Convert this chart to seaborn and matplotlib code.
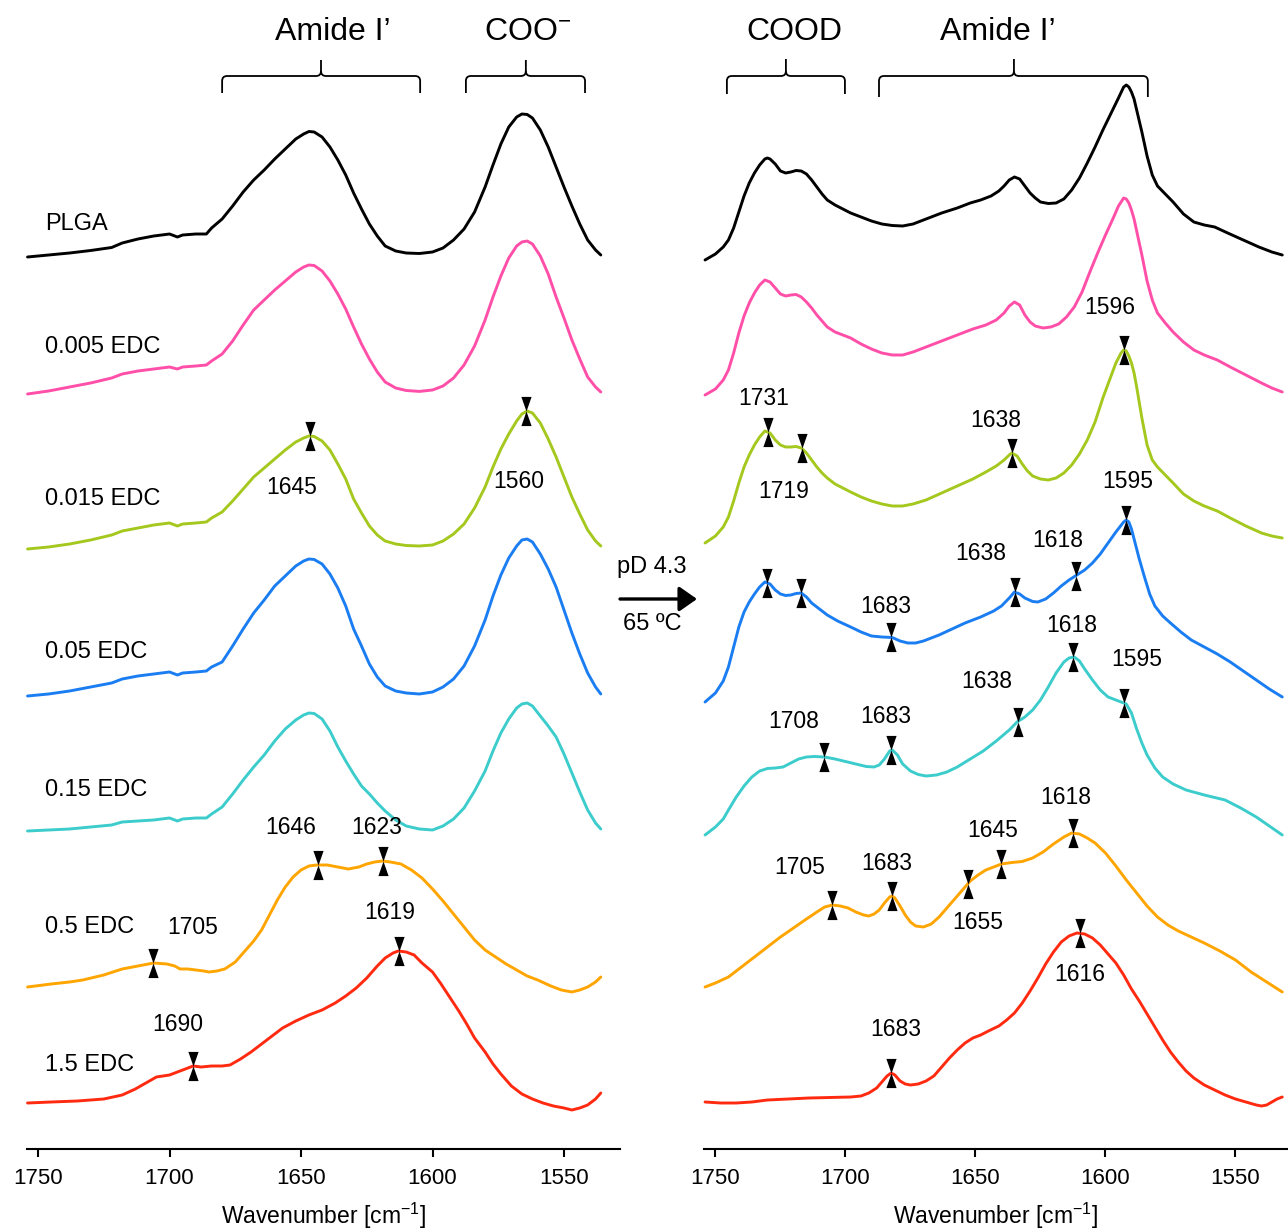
import numpy as np
import matplotlib
matplotlib.use("Agg")
import matplotlib.pyplot as plt
from matplotlib.path import Path
from matplotlib.patches import PathPatch
import seaborn as sns

# ---- samples ----
SAMPLES = ["PLGA", "0.005 EDC", "0.015 EDC", "0.05 EDC", "0.15 EDC", "0.5 EDC", "1.5 EDC"]
COLORS = ["#000000", "#ff4fa8", "#a5c81e", "#1a7df2", "#3ccccc", "#ffa500", "#ff2a10"]

# ---- left panel (before), absorbance in a.u. relative to each trace start ----
L_OFFSETS = [892, 755, 600, 453, 318, 162, 46]

L_GRID_WN = [1754, 1746, 1738, 1730, 1722, 1718, 1712, 1706, 1700, 1697, 1695, 1690, 1686, 1684,
             1680, 1676, 1672, 1668, 1664, 1660, 1656, 1652, 1649, 1647, 1645, 1642, 1639, 1636,
             1633, 1630, 1627, 1624, 1621, 1618, 1614, 1610, 1605, 1600, 1596, 1592, 1588, 1584,
             1580, 1577, 1574, 1571, 1568, 1566, 1564, 1562, 1559, 1556, 1553, 1550, 1547, 1544,
             1541, 1538, 1536]
L_PLGA = [0, 2, 4, 6.5, 9.5, 14, 18, 21, 23, 20, 22, 23, 23, 29,
          38, 51, 65, 77, 87, 98, 108, 118, 123, 125.5, 125, 120, 110, 97,
          82, 64, 48, 33, 21, 11, 6, 4, 3.5, 5, 9, 17, 28, 45,
          70, 92, 113, 130, 140, 143, 142.5, 139, 127, 110, 90, 70, 51, 33,
          17, 7, 2]
L_EDC0005 = [0, 3, 7, 11, 16, 20, 23, 25, 27, 25, 27, 28, 29, 33,
             40, 53, 69, 84, 94, 104, 113, 122, 127, 129, 128.5, 123, 113, 100,
             85, 67, 50, 35, 22, 12, 6, 3.5, 2.6, 4, 8, 16, 29, 48,
             74, 97, 118, 136, 148, 152, 153, 150, 138, 120, 97, 76, 54, 35,
             17, 7, 2]
L_EDC0015 = [0, 2, 5, 9, 14, 18, 21, 24, 26, 23, 25, 26, 27, 31,
             37, 48, 60, 72, 81, 90, 99, 107, 111, 113, 112.5, 108, 99, 85,
             70, 50, 36, 23, 14, 8, 5, 3.5, 3, 4, 8, 15, 25, 41,
             62, 82, 100, 115, 128, 135, 138, 136, 126, 110, 92, 72, 52, 35,
             19, 8, 3]
L_EDC005 = [0, 2, 5, 9, 13, 17, 20, 22, 24, 21, 23, 24, 25, 29,
            34, 50, 67, 83, 96, 110, 120, 130, 135, 137, 136.5, 132, 122, 108,
            90, 67, 50, 32, 19, 10, 5, 3, 2, 4, 9, 17, 30, 50,
            76, 100, 121, 138, 150, 156, 157, 154, 142, 127, 109, 86, 63, 42,
            23, 9, 2]
L_EDC015 = [0, 1, 2, 4, 6, 9, 10, 11, 13, 10, 12, 13, 13, 17,
            24, 37, 51, 64, 76, 90, 102, 111, 116, 118, 117.5, 112, 100, 84,
            70, 57, 45, 37, 28, 20, 11, 5, 2, 1, 5, 12, 23, 40,
            60, 80, 98, 112, 123, 127, 128, 125, 115, 105, 94, 77, 58, 39,
            21, 8, 2]
L_EDC05_WN = [1754, 1745, 1738, 1733, 1725, 1718, 1712, 1706, 1701, 1698, 1696, 1693, 1690, 1687,
              1685, 1682, 1679, 1675, 1671, 1668, 1665, 1662, 1659, 1656, 1653, 1650, 1647, 1644,
              1640, 1636, 1632, 1628, 1625, 1622, 1619, 1616, 1612, 1608, 1604, 1600, 1596, 1592,
              1588, 1584, 1580, 1576, 1572, 1568, 1564, 1560, 1555, 1551, 1547, 1544, 1541, 1538,
              1536]
L_EDC05 = [0, 3, 5, 7, 12, 18, 21, 24, 23, 21, 18, 18, 17, 16,
           15, 16, 18, 25, 37, 46, 57, 72, 87, 100, 110, 117, 121, 122,
           122, 120, 118, 120, 123, 125, 126, 125, 123, 117, 109, 98, 86, 73,
           60, 47, 37, 30, 23, 17, 11, 7, 1, -3, -5, -3, 0, 5,
           10]
L_EDC15_WN = [1754, 1745, 1735, 1725, 1718, 1713, 1709, 1705, 1700, 1696, 1693, 1691, 1688, 1684,
              1680, 1677, 1673, 1669, 1665, 1661, 1657, 1652, 1647, 1642, 1637, 1633, 1629, 1625,
              1621, 1618, 1615, 1613, 1610, 1607, 1604, 1600, 1597, 1593, 1590, 1587, 1584, 1580,
              1577, 1574, 1570, 1566, 1562, 1558, 1554, 1550, 1547, 1544, 1541, 1538, 1536]
L_EDC15 = [0, 1, 2, 4, 8, 14, 20, 26, 28, 32, 35, 37, 36, 37,
           37, 38, 44, 51, 59, 67, 75, 82, 88, 93, 100, 107, 115, 125,
           137, 145, 150, 152, 151, 148, 140, 131, 120, 104, 92, 79, 65, 51,
           39, 29, 17, 9, 4, 0, -3, -5, -7, -5, -2, 4, 10]

# ---- right panel (pD 4.3, 65 C) ----
R_OFFSETS = [889, 754, 606, 447, 314, 162, 47]

R_PLGA_WN = [1754, 1750, 1747, 1745, 1743, 1741, 1739, 1737, 1735, 1733, 1731, 1730, 1729, 1727,
             1725, 1723, 1721, 1719, 1717, 1715, 1713, 1711, 1709, 1707, 1704, 1701, 1698, 1694,
             1690, 1686, 1682, 1678, 1674, 1669, 1663, 1657, 1652, 1648, 1644, 1641, 1639, 1637,
             1635, 1633, 1631, 1629, 1627, 1625, 1622, 1619, 1616, 1613, 1610, 1607, 1604, 1601,
             1598, 1595, 1593, 1592, 1591, 1590, 1589, 1588, 1586, 1584, 1582, 1580, 1577, 1574,
             1570, 1566, 1562, 1558, 1553, 1547, 1541, 1536, 1532]
R_PLGA = [0, 6, 13, 20, 32, 48, 64, 77, 87, 95, 101, 102, 101, 96,
          89, 87, 88, 89.5, 89, 86, 80, 73, 66, 60, 55, 51, 47, 43,
          39, 36, 34.5, 34, 36, 41, 47, 52, 57, 60, 64, 69, 74, 80,
          83, 81, 74, 67, 62, 58, 56.5, 57, 61, 70, 82, 97, 113, 130,
          146, 162, 173, 175, 173, 168, 161, 150, 128, 104, 85, 74, 66, 58,
          46, 38, 35, 33, 27, 20, 13, 8, 5]
R_EDC0005_WN = [1754, 1750, 1747, 1745, 1743, 1741, 1739, 1737, 1735, 1733, 1731, 1729, 1727, 1725,
                1723, 1721, 1719, 1717, 1715, 1713, 1711, 1709, 1707, 1704, 1701, 1698, 1694, 1690,
                1686, 1682, 1678, 1674, 1669, 1663, 1657, 1651, 1646, 1642, 1639, 1637, 1635, 1633,
                1631, 1629, 1627, 1624, 1621, 1618, 1615, 1612, 1609, 1606, 1603, 1600, 1597, 1595,
                1593, 1592, 1591, 1590, 1589, 1588, 1586, 1584, 1582, 1580, 1577, 1574, 1570, 1566,
                1562, 1557, 1552, 1546, 1540, 1536, 1532]
R_EDC0005 = [0, 6, 15, 25, 42, 62, 79, 92, 102, 110, 115, 113, 107, 101,
             99, 100, 100.5, 98, 93, 87, 80, 74, 68, 63, 60, 57, 51, 46,
             42, 40, 40, 43, 48, 54, 60, 66, 70, 75, 82, 89, 93, 90,
             80, 73, 69, 67, 68, 71, 78, 88, 103, 123, 142, 160, 177, 189,
             197, 196, 192, 185, 176, 164, 140, 114, 95, 82, 72, 63, 53, 45,
             40, 35, 28, 20, 12, 7, 3]
R_EDC0015_WN = [1754, 1750, 1747, 1745, 1743, 1741, 1739, 1737, 1735, 1733, 1731, 1729, 1727, 1725,
                1723, 1721, 1719, 1717, 1715, 1713, 1711, 1709, 1707, 1704, 1701, 1698, 1694, 1690,
                1686, 1682, 1678, 1674, 1669, 1663, 1657, 1651, 1646, 1642, 1639, 1637, 1636, 1634,
                1632, 1630, 1628, 1625, 1622, 1619, 1616, 1613, 1610, 1607, 1604, 1601, 1598, 1596,
                1594, 1593, 1592, 1591, 1590, 1589, 1588, 1586, 1584, 1582, 1580, 1577, 1574, 1570,
                1566, 1562, 1557, 1552, 1546, 1540, 1536, 1532]
R_EDC0015 = [0, 7, 16, 26, 42, 60, 76, 88, 98, 106, 112, 110, 103, 98,
             96, 96, 96.5, 95, 90, 83, 76, 70, 65, 59, 55, 51, 46, 42,
             39, 37, 37, 39, 43, 50, 57, 64, 71, 77, 83, 88, 90, 87,
             79, 72, 67, 64, 63, 65, 70, 78, 89, 103, 121, 145, 166, 180,
             190, 193, 192, 187, 180, 170, 156, 125, 98, 83, 76, 68, 60, 49,
             42, 37, 32, 25, 17, 10, 7, 5]
R_EDC005_WN = [1754, 1750, 1747, 1745, 1743, 1741, 1739, 1737, 1735, 1733, 1731, 1729, 1727, 1725,
               1723, 1721, 1719, 1717, 1715, 1713, 1710, 1707, 1703, 1698, 1694, 1690, 1686, 1682,
               1679, 1676, 1673, 1670, 1664, 1659, 1654, 1648, 1643, 1640, 1637, 1635, 1633, 1631,
               1628, 1626, 1623, 1620, 1617, 1614, 1611, 1608, 1605, 1602, 1599, 1596, 1593, 1592,
               1591, 1590, 1589, 1587, 1585, 1583, 1581, 1578, 1575, 1571, 1567, 1562, 1557, 1552,
               1547, 1542, 1537, 1532]
R_EDC005 = [0, 9, 21, 35, 55, 75, 90, 100, 108, 115, 120, 118, 112, 108,
            106.5, 107, 108.5, 109, 105, 99, 93, 87, 81, 75, 70, 66, 65, 64.5,
            61, 59, 59, 61, 67, 73, 79, 85, 91, 96, 104, 110, 108, 104,
            100.5, 100, 103, 109, 116, 122, 127, 132, 139, 148, 159, 170, 180, 182,
            180, 173, 163, 143, 125, 108, 96, 86, 79, 70, 62, 55, 48, 40,
            31, 22, 13, 5]
R_EDC015_WN = [1754, 1750, 1747, 1745, 1742, 1739, 1736, 1733, 1730, 1727, 1724, 1721, 1718, 1715,
               1712, 1708, 1704, 1700, 1696, 1692, 1689, 1687, 1685, 1683, 1682, 1680, 1678, 1675,
               1672, 1669, 1665, 1661, 1657, 1652, 1647, 1642, 1637, 1634, 1631, 1628, 1625, 1622,
               1619, 1616, 1614, 1612, 1610, 1608, 1605, 1602, 1599, 1596, 1594, 1592, 1590, 1588,
               1586, 1584, 1581, 1578, 1574, 1569, 1562, 1554, 1548, 1542, 1537, 1532]
R_EDC015 = [0, 8, 16, 25, 38, 49, 58, 64, 66.5, 67, 68, 72, 76, 78,
            78.5, 78, 76, 73.5, 71, 68.5, 68, 70, 76, 84, 85, 80, 71, 64,
            60.5, 59, 60, 63, 68, 76, 84, 94, 105, 113, 118, 125, 135, 148,
            162, 173, 177, 178, 174, 166, 155, 145, 138, 135, 133, 131, 122, 106,
            92, 80, 67, 58, 51, 45, 40, 35, 27, 18, 9, 0]
R_EDC05_WN = [1754, 1750, 1745, 1740, 1735, 1730, 1725, 1720, 1715, 1711, 1708, 1705, 1702, 1699,
              1696, 1693, 1691, 1689, 1687, 1685, 1683, 1682, 1681, 1679, 1677, 1675, 1673, 1670,
              1667, 1664, 1661, 1658, 1655, 1652, 1649, 1646, 1643, 1640, 1636, 1632, 1628, 1624,
              1620, 1616, 1613, 1610, 1607, 1604, 1600, 1596, 1592, 1588, 1584, 1580, 1576, 1572,
              1567, 1562, 1556, 1550, 1544, 1538, 1532]
R_EDC05 = [0, 4, 10, 20, 30, 40, 50, 59, 68, 75, 80, 82, 81, 79,
           75, 72, 71, 73, 77, 84, 90, 91, 89, 81, 72, 65, 61, 60,
           63, 70, 79, 88, 97, 106, 112, 117, 120, 123, 124.5, 125.5, 129, 135,
           143, 150, 154, 153, 149, 144, 134, 121, 107, 94, 81, 70, 62, 56,
           50, 44, 36, 27, 15, 5, -5]
R_EDC15_WN = [1754, 1748, 1742, 1736, 1730, 1722, 1714, 1706, 1698, 1694, 1691, 1688, 1686, 1684,
              1682.4, 1681, 1679, 1677, 1675, 1672, 1669, 1666, 1663, 1660, 1657, 1654, 1651, 1648,
              1645, 1641, 1638, 1635, 1632, 1629, 1626, 1623, 1620, 1617, 1614, 1611, 1608, 1605,
              1602, 1599, 1596, 1593, 1590, 1587, 1584, 1581, 1578, 1575, 1572, 1569, 1566, 1562,
              1558, 1554, 1550, 1546, 1542, 1540, 1538, 1536, 1534, 1532]
R_EDC15 = [0, -1, -1, 0, 2, 3, 4, 4.5, 5, 6, 9, 14, 20, 26,
           29, 27, 21, 18, 17, 18, 21, 26, 35, 44, 52, 59, 64, 67,
           71, 76, 82, 89, 99, 111, 124, 138, 150, 160, 166, 169, 168, 164,
           157, 148, 139, 127, 113, 101, 88, 75, 62, 50, 40, 31, 24, 17,
           12, 7, 3, 0, -3, -4, -3, 0, 3, 5]

# ---- marked bands: (trace index, position, label) ----
L_MARKS = [(2, 1646.6, "1645"), (2, 1564.3, "1560"), (5, 1706.3, "1705"), (5, 1643.4, "1646"),
           (5, 1619.0, "1623"), (6, 1691.2, "1690"), (6, 1612.7, "1619")]
R_MARKS = [(2, 1592.9, "1596"), (2, 1729.7, "1731"), (2, 1716.9, "1719"), (2, 1635.8, "1638"),
           (3, 1730.2, None), (3, 1717.2, None), (3, 1592.0, "1595"), (3, 1634.7, "1638"),
           (3, 1611.5, "1618"), (3, 1682.3, "1683"),
           (4, 1612.3, "1618"), (4, 1592.9, "1595"), (4, 1633.8, "1638"), (4, 1708.4, "1708"),
           (4, 1682.3, "1683"),
           (5, 1612.6, "1618"), (5, 1640.2, "1645"), (5, 1705.2, "1705"), (5, 1682.0, "1683"),
           (5, 1652.9, "1655"),
           (6, 1609.8, "1616"), (6, 1682.4, "1683")]

# label offsets from marker, pixels (x right, y up)
L_LABEL_OFF = [(-18, -51), (-8, -70), (40, 36), (-28, 37), (-6, 34), (-15, 42), (-9, 39)]
R_LABEL_OFF = [(-14, 43), (-5, 34), (-18, -43), (-17, 33),
               (0, 0), (0, 0), (1, 38), (-34, 39), (-18, 35), (-6, 31),
               (-2, 32), (13, 44), (-31, 40), (-30, 35), (-6, 34),
               (-7, 36), (-8, 34), (-32, 38), (-6, 32), (10, -39),
               (0, -41), (5, 43)]
NAME_RISE = [33, 47, 50, 44, 41, 60, 38]

left_traces = [(L_GRID_WN, L_PLGA), (L_GRID_WN, L_EDC0005), (L_GRID_WN, L_EDC0015),
               (L_GRID_WN, L_EDC005), (L_GRID_WN, L_EDC015), (L_EDC05_WN, L_EDC05),
               (L_EDC15_WN, L_EDC15)]
right_traces = [(R_PLGA_WN, R_PLGA), (R_EDC0005_WN, R_EDC0005), (R_EDC0015_WN, R_EDC0015),
                (R_EDC005_WN, R_EDC005), (R_EDC015_WN, R_EDC015), (R_EDC05_WN, R_EDC05),
                (R_EDC15_WN, R_EDC15)]

sns.set_theme(style="ticks")
plt.rcParams['font.family'] = ['Liberation Sans', 'DejaVu Sans']
plt.rcParams['mathtext.default'] = 'regular'
plt.rcParams['text.color'] = 'black'
plt.rcParams['axes.labelcolor'] = 'black'
plt.rcParams['xtick.color'] = 'black'
plt.rcParams['xtick.labelcolor'] = 'black'

fig = plt.figure(figsize=(12.88, 12.30), dpi=100)
ax_l = fig.add_axes([27 / 1288, 81 / 1230, 593 / 1288, 1149 / 1230])
ax_r = fig.add_axes([704 / 1288, 81 / 1230, 584 / 1288, 1149 / 1230])

HOURGLASS = [(-0.35, 1), (0.35, 1), (0, 0), (0.35, -1), (-0.35, -1), (0, 0), (-0.35, 1)]


def bracket(ax, x0, x1, xm, y_end, y_bar, y_tip, rx=1.9, ry=5):
    s = np.sign(x1 - x0)
    verts = [(x0, y_end), (x0, y_bar - ry), (x0, y_bar), (x0 + s * rx, y_bar),
             (xm - s * rx, y_bar), (xm, y_bar), (xm, y_bar + ry), (xm, y_tip)]
    codes = [Path.MOVETO, Path.LINETO, Path.CURVE3, Path.CURVE3,
             Path.LINETO, Path.CURVE3, Path.CURVE3, Path.LINETO]
    verts2 = [(xm, y_bar + ry), (xm, y_bar), (xm + s * rx, y_bar), (x1 - s * rx, y_bar),
              (x1, y_bar), (x1, y_bar - ry), (x1, y_end)]
    codes2 = [Path.MOVETO, Path.CURVE3, Path.CURVE3, Path.LINETO,
              Path.CURVE3, Path.CURVE3, Path.LINETO]
    for v, c in ((verts, codes), (verts2, codes2)):
        ax.add_patch(PathPatch(Path(v, c), fill=False, lw=1.3, color="black", clip_on=False))


def draw_panel(ax, traces, offsets, marks, offs, xlim):
    for i, (wn, a) in enumerate(traces):
        y = offsets[i] + np.array(a, dtype=float)
        sns.lineplot(x=np.array(wn, dtype=float), y=y, ax=ax, color=COLORS[i], lw=2.1,
                     estimator=None, sort=False, clip_on=False)
    for (i, pos, lab), (dx, dy) in zip(marks, offs):
        wn = np.array(traces[i][0], dtype=float)
        y = offsets[i] + np.array(traces[i][1], dtype=float)
        yp = np.interp(pos, wn[::-1], y[::-1])
        ax.plot([pos], [yp], marker=HOURGLASS, ms=21, color="black", mew=0, ls="none",
                zorder=5, clip_on=False)
        if lab:
            ax.annotate(lab, (pos, yp), xytext=(dx, dy), textcoords="offset pixels",
                        ha="center", va="center", fontsize=16.5)
    ax.set_xlim(*xlim)
    ax.set_ylim(0, 1149)
    ax.set_yticks([])
    ax.set_xticks([1750, 1700, 1650, 1600, 1550])
    ax.tick_params(axis="x", direction="out", length=6, width=1.5, labelsize=16, pad=8,
                   color="black")
    for sp in ax.spines.values():
        sp.set_linewidth(1.5)
        sp.set_color("black")
    sns.despine(ax=ax, left=True)
    ax.set_xlabel("Wavenumber [cm$^{-1}$]", fontsize=16.5, labelpad=8)
    ax.set_facecolor("none")


draw_panel(ax_l, left_traces, L_OFFSETS, L_MARKS, L_LABEL_OFF, (1754.2, 1528.7))
draw_panel(ax_r, right_traces, R_OFFSETS, R_MARKS, R_LABEL_OFF, (1754.4, 1529.8))

for i, name in enumerate(SAMPLES):
    ax_l.text(1747.3, L_OFFSETS[i] + NAME_RISE[i], name, fontsize=17, ha="left", va="center")

bracket(ax_l, 1680.0, 1604.7, 1642.4, 1056, 1073, 1089)
bracket(ax_l, 1587.3, 1542.0, 1564.5, 1056, 1073, 1089)
bracket(ax_r, 1745.6, 1700.2, 1722.9, 1055, 1073, 1090)
bracket(ax_r, 1687.1, 1583.7, 1635.2, 1052, 1073, 1090)
ax_l.text(1637.8, 1117, "Amide I\u2019", fontsize=23, ha="center", va="center")
ax_l.text(1563.7, 1117, "COO$^{-}$", fontsize=23, ha="center", va="center")
ax_r.text(1719.8, 1117, "COOD", fontsize=23, ha="center", va="center")
ax_r.text(1641.3, 1117, "Amide I\u2019", fontsize=23, ha="center", va="center")

# treatment arrow between the panels
ax_l.annotate("", xy=(697, 1230 - 599), xytext=(620, 1230 - 599), xycoords="figure pixels",
              textcoords="figure pixels",
              arrowprops=dict(arrowstyle="-|>,head_length=0.6,head_width=0.42",
                              mutation_scale=18, lw=2.4, color="black", shrinkA=0, shrinkB=0))
fig.text(652 / 1288, 1 - 567 / 1230, "pD 4.3", fontsize=17, ha="center", va="center")
fig.text(652 / 1288, 1 - 624 / 1230, "65 \u00baC", fontsize=17, ha="center", va="center")

fig.savefig("out.png", dpi=100, facecolor="white")
